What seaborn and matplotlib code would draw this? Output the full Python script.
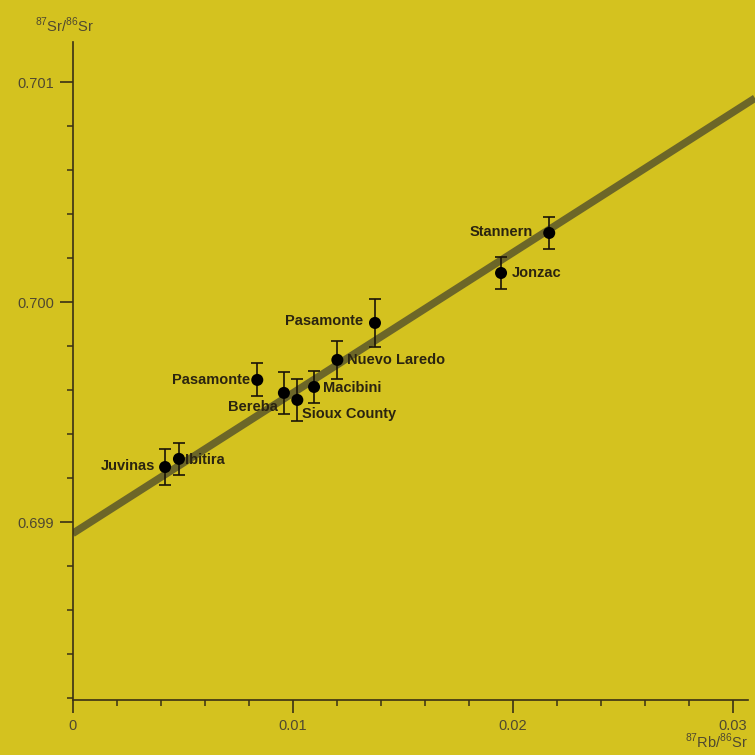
import numpy as np
import pandas as pd
import seaborn as sns
import matplotlib.pyplot as plt
from matplotlib.ticker import MultipleLocator, FixedLocator

# meteorite data
names = ['Juvinas', 'Ibitira', 'Pasamonte', 'Bereba', 'Sioux County',
         'Macibini', 'Nuevo Laredo', 'Pasamonte', 'Jonzac', 'Stannern']
rb_sr = [0.00420, 0.00483, 0.00839, 0.00960, 0.01021,
         0.01097, 0.01203, 0.01374, 0.01947, 0.02166]
sr_sr = [0.699252, 0.699289, 0.699648, 0.699589, 0.699557,
         0.699616, 0.699739, 0.699907, 0.700134, 0.700316]
sr_err = [0.000082, 0.000073, 0.000075, 0.000095, 0.000095,
          0.000073, 0.000086, 0.000109, 0.000073, 0.000073]

# isochron
intercept = 0.698950
slope = 0.0638

# label offsets (pixels) and alignment
offsets = [(-10, 1), (6, -1), (-7, 0), (-6, -14), (5, -14),
           (9, -1), (10, 0), (-12, 2), (11, 0), (-16, 1)]
aligns = ['right', 'left', 'right', 'right', 'left',
          'left', 'left', 'right', 'left', 'right']

bg = '#d4c21f'
dark = '#2b2410'
tick_col = '#4f4830'

sns.set_theme(style='ticks')
plt.rcParams['font.family'] = ['Liberation Sans', 'DejaVu Sans']
plt.rcParams['mathtext.fontset'] = 'custom'
plt.rcParams['mathtext.rm'] = 'Liberation Sans'

df = pd.DataFrame({'name': names, 'x': rb_sr, 'y': sr_sr, 'err': sr_err})

fig = plt.figure(figsize=(7.55, 7.55), dpi=100, facecolor=bg)
ax = fig.add_axes([72.7 / 755, 55 / 755, 1 - 72.7 / 755, 658 / 755])
ax.set_facecolor(bg)

xmax = (755 - 72.7) / 22000
ax.set_xlim(0, xmax)
ax.set_ylim(0.698193, 0.701184)

line_x = np.array([0, xmax])
line_df = pd.DataFrame({'x': line_x, 'y': intercept + slope * line_x})
sns.lineplot(data=line_df, x='x', y='y', ax=ax, color='#6c6628', lw=5.4,
             solid_capstyle='butt', zorder=2)

ax.errorbar(df['x'], df['y'], yerr=df['err'], fmt='none', ecolor='#1a1408',
            elinewidth=1.2, capsize=4.5, capthick=1.2, zorder=3)
sns.scatterplot(data=df, x='x', y='y', ax=ax, color='black', s=75,
                edgecolor='none', zorder=4)

for i, row in df.iterrows():
    ax.annotate(row['name'], (row['x'], row['y']), xytext=offsets[i],
                textcoords='offset pixels', ha=aligns[i], va='center',
                fontsize=10.5, fontweight='bold', color=dark, zorder=5)

sns.despine(ax=ax)
for s in ['left', 'bottom']:
    ax.spines[s].set_color('#3a3015')
    ax.spines[s].set_linewidth(1.2)
ax.spines['bottom'].set_bounds(0, 0.0307)

ax.xaxis.set_major_locator(FixedLocator([0, 0.01, 0.02, 0.03]))
ax.xaxis.set_minor_locator(MultipleLocator(0.002))
ax.yaxis.set_major_locator(FixedLocator([0.699, 0.700, 0.701]))
ax.yaxis.set_minor_locator(MultipleLocator(0.0002))
ax.set_xticklabels(['0', '0.01', '0.02', '0.03'])
ax.set_yticklabels(['0.699', '0.700', '0.701'])
ax.tick_params(which='major', direction='out', length=9.5, width=1.2,
               color='#3a3015', labelsize=10.5, labelcolor=tick_col, pad=4)
ax.tick_params(which='minor', direction='out', length=4.5, width=1.1,
               color='#3a3015')
ax.set_xlabel('')
ax.set_ylabel('')

fig.text(35 / 755, 1 - 25 / 755, r'$^{87}$Sr/$^{86}$Sr', ha='left',
         va='center', fontsize=10.5, color=tick_col)
fig.text(748 / 755, 1 - 741 / 755, r'$^{87}$Rb/$^{86}$Sr', ha='right',
         va='center', fontsize=10.5, color=tick_col)

fig.savefig('out.png', dpi=100, facecolor=bg)
